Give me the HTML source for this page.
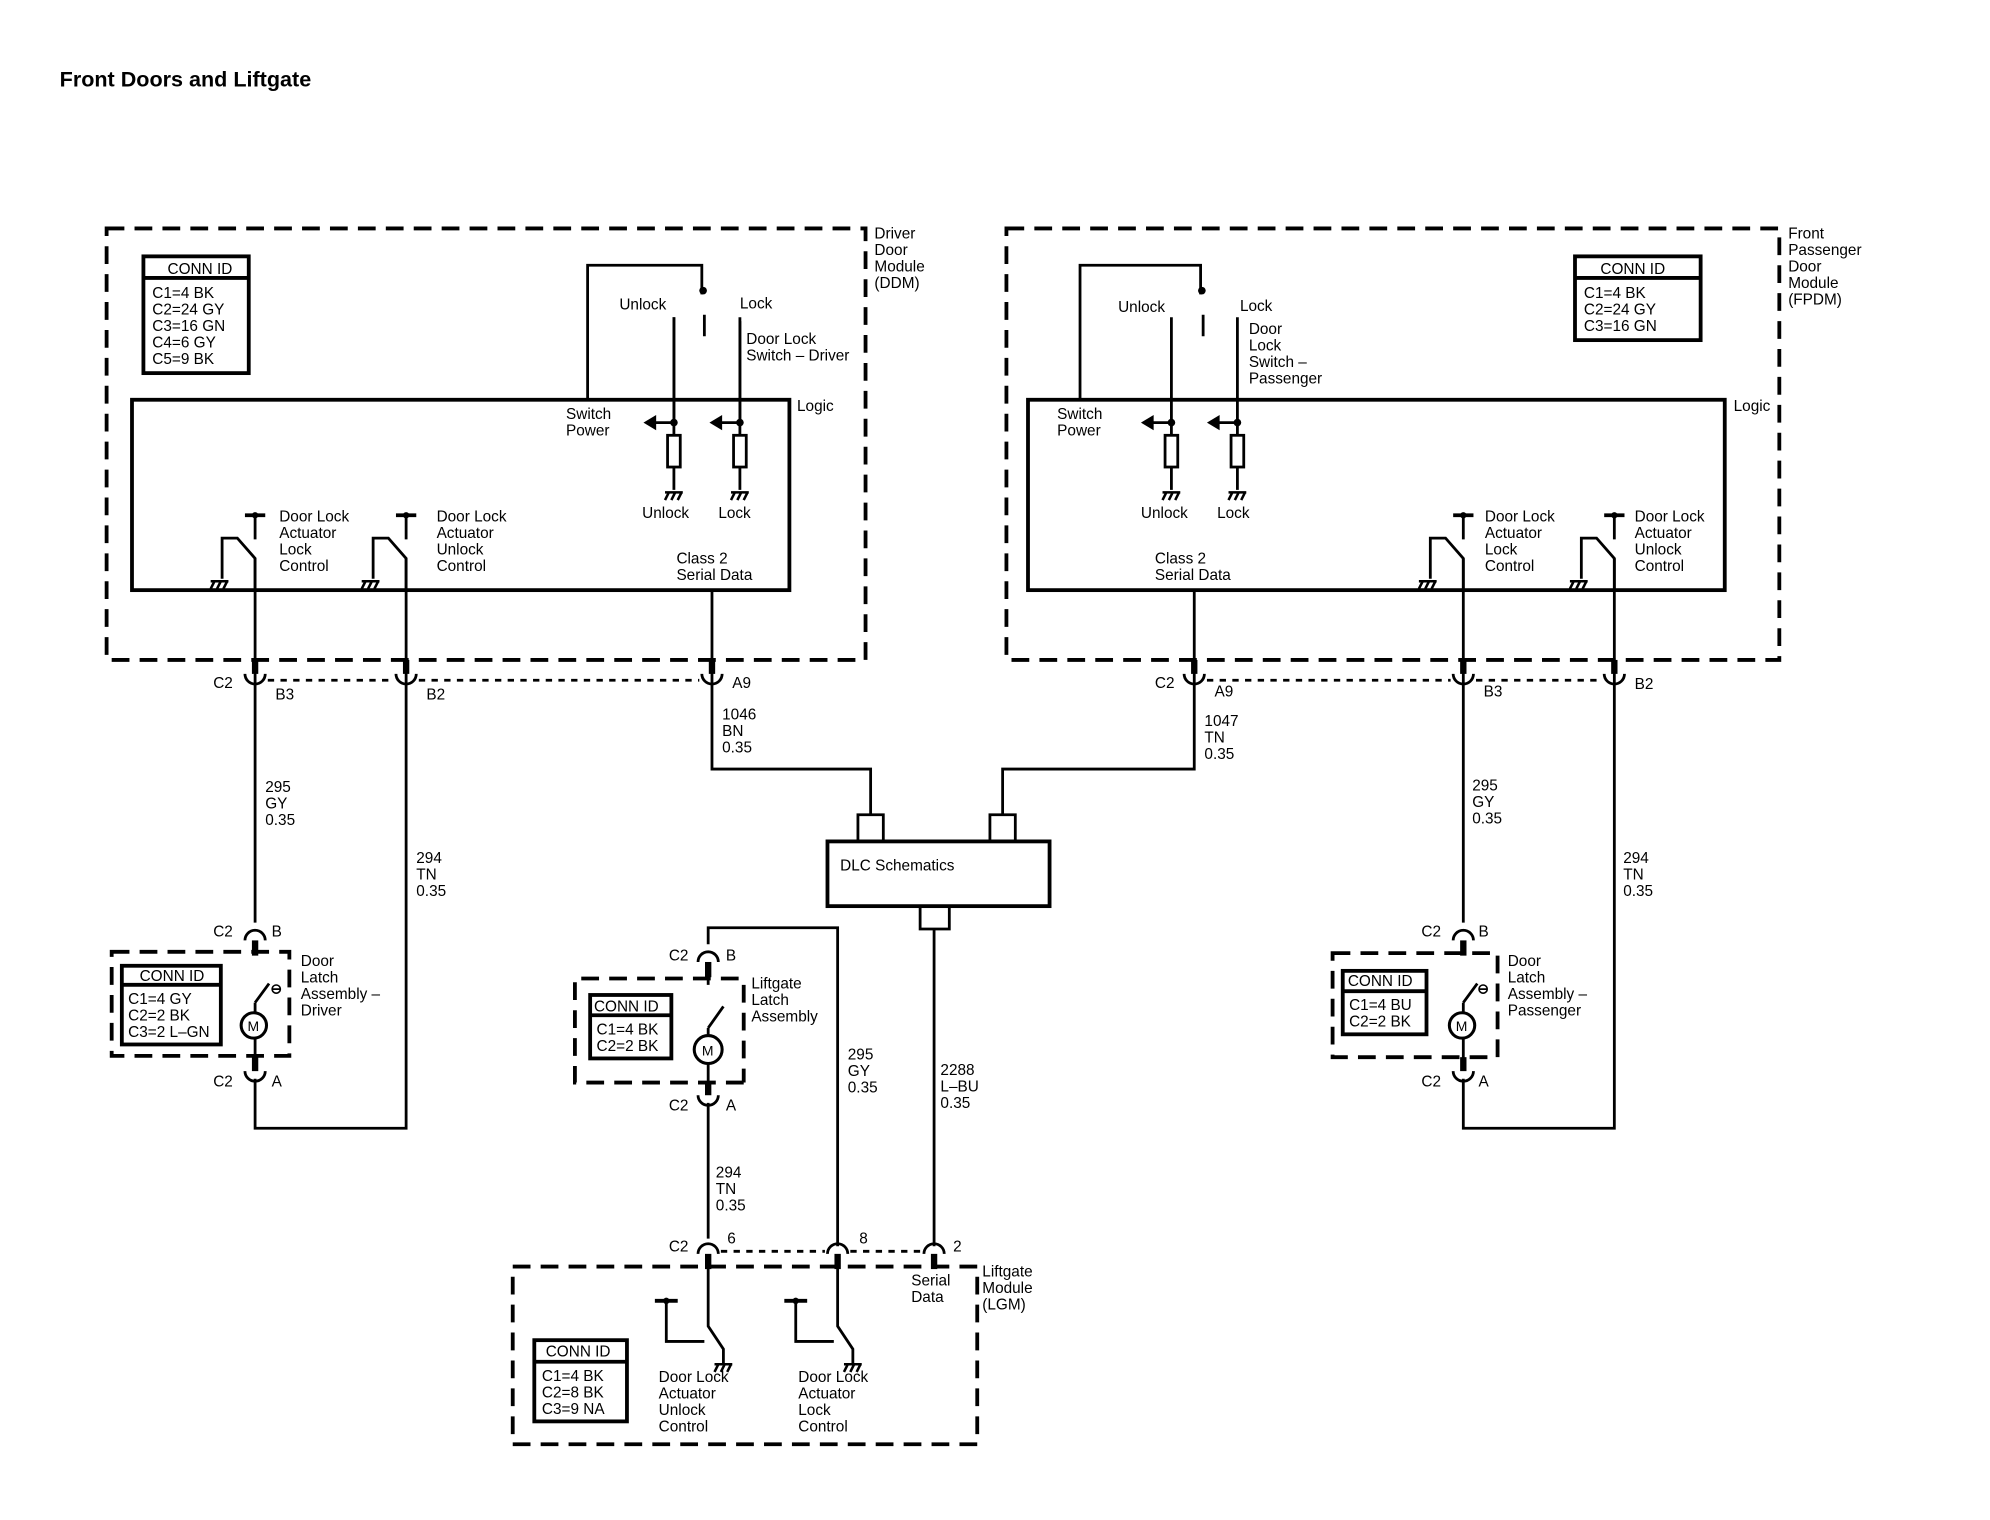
<!DOCTYPE html>
<html><head><meta charset="utf-8"><style>
html,body{margin:0;padding:0;background:#fff;}
svg{display:block;}
text{font-family:"Liberation Sans",sans-serif;font-size:12.1px;fill:#000;}
.t{font-weight:bold;font-size:17px;}
.w{stroke:#000;stroke-width:2.2;fill:none;}
.b{stroke:#000;stroke-width:3;fill:none;}
.d{stroke:#000;stroke-width:3;fill:none;stroke-dasharray:14 8;}
.dd{stroke:#000;stroke-width:2.2;fill:none;stroke-dasharray:5 5;}
</style></head><body>
<svg width="1990" height="1520" viewBox="0 0 1568 1197.7" preserveAspectRatio="none" xmlns="http://www.w3.org/2000/svg">
<defs>
<g id="gnd"><path d="M-7,0 H7 M-4,0 l-3,6 M1,0 l-3,6 M6,0 l-3,6" stroke="#000" stroke-width="2" fill="none"/></g>
<g id="cup"><rect x="-2.5" y="-17" width="5" height="11" fill="#000"/><path d="M-8,-6 A8,8 0 0 0 8,-6" class="w" stroke-width="2.6"/></g>
<g id="cap"><rect x="-2.5" y="6" width="5" height="12" fill="#000"/><path d="M-8,6 A8,8 0 0 1 8,6" class="w" stroke-width="2.6"/></g>
<g id="relay"><path d="M-8,406 H8" class="b"/><circle cx="0" cy="406" r="2.5"/><path d="M0,406 V425 M0,465 V440 L-14,424 H-26 V456" class="w"/><use href="#gnd" x="-28" y="458"/></g>
<g id="res"><path d="M0,250 V343 M0,368 V386 M0,333 H-16" class="w"/><circle cx="0" cy="333" r="3"/><polygon points="-24,333 -14,327 -14,339"/><rect x="-5" y="343" width="10" height="25" fill="#fff" stroke="#000" stroke-width="2.2"/><use href="#gnd" x="0" y="388"/></g>
<g id="lrelay"><path d="M-42,1025 H-24" class="b"/><circle cx="-33" cy="1025" r="2.5"/><path d="M-33,1025 V1057 H-3 M0,998 V1045 L12,1063 V1074" class="w"/><use href="#gnd" x="12" y="1075"/></g>
</defs>

<text x="47" y="68" class="t">Front Doors and Liftgate</text>

<!-- DDM -->
<rect x="84" y="180" width="598" height="340" class="d"/>
<text x="689" y="188">Driver</text><text x="689" y="201">Door</text><text x="689" y="214">Module</text><text x="689" y="227">(DDM)</text>
<rect x="113" y="202" width="83" height="92" class="b"/><path d="M113,219 H196" class="b"/>
<text x="132" y="216">CONN ID</text>
<text x="120" y="235">C1=4 BK</text><text x="120" y="248">C2=24 GY</text><text x="120" y="261">C3=16 GN</text><text x="120" y="274">C4=6 GY</text><text x="120" y="287">C5=9 BK</text>
<rect x="104" y="315" width="518" height="150" class="b"/>
<text x="628" y="324">Logic</text>
<path d="M463,315 V209 H553 V232 M555,248 V265 M583,253 V333 M531,250 V333" class="w"/>
<circle cx="554" cy="229" r="3"/>
<use href="#res" x="531"/><use href="#res" x="583"/>
<text x="488" y="244">Unlock</text><text x="583" y="243">Lock</text>
<text x="588" y="271">Door Lock</text><text x="588" y="284">Switch – Driver</text>
<text x="446" y="330">Switch</text><text x="446" y="343">Power</text>
<text x="506" y="408">Unlock</text><text x="566" y="408">Lock</text>
<use href="#relay" x="201"/><use href="#relay" x="320"/>
<text x="220" y="411">Door Lock</text><text x="220" y="424">Actuator</text><text x="220" y="437">Lock</text><text x="220" y="450">Control</text>
<text x="344" y="411">Door Lock</text><text x="344" y="424">Actuator</text><text x="344" y="437">Unlock</text><text x="344" y="450">Control</text>
<text x="533" y="444">Class 2</text><text x="533" y="457">Serial Data</text>

<!-- driver wires -->
<path d="M201,440 V727 M320,440 V889 H201 V850 M561,465 V606 H686 V642" class="w"/>
<use href="#cup" x="201" y="537"/><use href="#cup" x="320" y="537"/><use href="#cup" x="561" y="537"/>
<path d="M211,536 H310 M330,536 H551" class="dd"/>
<text x="168" y="542">C2</text><text x="217" y="551">B3</text><text x="336" y="551">B2</text><text x="577" y="542">A9</text>
<text x="209" y="624">295</text><text x="209" y="637">GY</text><text x="209" y="650">0.35</text>
<text x="328" y="680">294</text><text x="328" y="693">TN</text><text x="328" y="706">0.35</text>
<text x="569" y="567">1046</text><text x="569" y="580">BN</text><text x="569" y="593">0.35</text>

<!-- driver latch -->
<use href="#cap" x="201" y="735"/>
<text x="168" y="738">C2</text><text x="214" y="738">B</text>
<path d="M88,750 H228 V832 H88 Z" class="d"/>
<rect x="96" y="761" width="78" height="62" class="b"/><path d="M96,776 H174" class="b"/>
<text x="110" y="773">CONN ID</text>
<text x="101" y="791">C1=4 GY</text><text x="101" y="804">C2=2 BK</text><text x="101" y="817">C3=2 L–GN</text>
<path d="M201,790 V798 M201,790 L212,775 M201,818 V836" class="w"/>
<circle cx="200" cy="808" r="10" fill="#fff" stroke="#000" stroke-width="2.4"/><text x="195" y="812.5" style="font-size:11px">M</text>
<text x="213" y="783" style="font-weight:bold;font-size:11px">⊖</text>
<use href="#cup" x="201" y="850"/>
<text x="168" y="856">C2</text><text x="214" y="856">A</text>
<text x="237" y="761">Door</text><text x="237" y="774">Latch</text><text x="237" y="787">Assembly –</text><text x="237" y="800">Driver</text>

<!-- DLC -->
<rect x="652" y="663" width="175" height="51" class="b"/>
<text x="662" y="686">DLC Schematics</text>
<path d="M676,663 V642 H696 V663 M780,663 V642 H800 V663 M725,714 V732 H748 V714" class="w"/>
<path d="M790,642 V606 H941 V465 M736,732 V982" class="w"/>
<text x="949" y="572">1047</text><text x="949" y="585">TN</text><text x="949" y="598">0.35</text>

<!-- FPDM -->
<rect x="793" y="180" width="609" height="340" class="d"/>
<text x="1409" y="188">Front</text><text x="1409" y="201">Passenger</text><text x="1409" y="214">Door</text><text x="1409" y="227">Module</text><text x="1409" y="240">(FPDM)</text>
<rect x="1241" y="202" width="99" height="66" class="b"/><path d="M1241,219 H1340" class="b"/>
<text x="1261" y="216">CONN ID</text>
<text x="1248" y="235">C1=4 BK</text><text x="1248" y="248">C2=24 GY</text><text x="1248" y="261">C3=16 GN</text>
<rect x="810" y="315" width="549" height="150" class="b"/>
<text x="1366" y="324">Logic</text>
<path d="M851,315 V209 H946 V232 M948,248 V265" class="w"/>
<circle cx="947" cy="229" r="3"/>
<use href="#res" x="923"/><use href="#res" x="975"/>
<text x="881" y="246">Unlock</text><text x="977" y="245">Lock</text>
<text x="984" y="263">Door</text><text x="984" y="276">Lock</text><text x="984" y="289">Switch –</text><text x="984" y="302">Passenger</text>
<text x="833" y="330">Switch</text><text x="833" y="343">Power</text>
<text x="899" y="408">Unlock</text><text x="959" y="408">Lock</text>
<text x="910" y="444">Class 2</text><text x="910" y="457">Serial Data</text>
<use href="#relay" x="1153"/><use href="#relay" x="1272"/>
<text x="1170" y="411">Door Lock</text><text x="1170" y="424">Actuator</text><text x="1170" y="437">Lock</text><text x="1170" y="450">Control</text>
<text x="1288" y="411">Door Lock</text><text x="1288" y="424">Actuator</text><text x="1288" y="437">Unlock</text><text x="1288" y="450">Control</text>

<path d="M1153,440 V727 M1272,440 V889 H1153 V850" class="w"/>
<use href="#cup" x="941" y="537"/><use href="#cup" x="1153" y="537"/><use href="#cup" x="1272" y="537"/>
<path d="M951,536 H1143 M1163,536 H1262" class="dd"/>
<text x="910" y="542">C2</text><text x="957" y="549">A9</text><text x="1169" y="549">B3</text><text x="1288" y="543">B2</text>
<text x="1160" y="623">295</text><text x="1160" y="636">GY</text><text x="1160" y="649">0.35</text>
<text x="1279" y="680">294</text><text x="1279" y="693">TN</text><text x="1279" y="706">0.35</text>

<use href="#cap" x="1153" y="735"/>
<text x="1120" y="738">C2</text><text x="1165" y="738">B</text>
<path d="M1050,751 H1180 V833 H1050 Z" class="d"/>
<rect x="1058" y="765" width="66" height="50" class="b"/><path d="M1058,781 H1124" class="b"/>
<text x="1062" y="777">CONN ID</text>
<text x="1063" y="796">C1=4 BU</text><text x="1063" y="809">C2=2 BK</text>
<path d="M1153,790 V798 M1153,790 L1164,775 M1153,818 V836" class="w"/>
<circle cx="1152" cy="808" r="10" fill="#fff" stroke="#000" stroke-width="2.4"/><text x="1147" y="812.5" style="font-size:11px">M</text>
<text x="1164" y="783" style="font-weight:bold;font-size:11px">⊖</text>
<use href="#cup" x="1153" y="850"/>
<text x="1120" y="856">C2</text><text x="1165" y="856">A</text>
<text x="1188" y="761">Door</text><text x="1188" y="774">Latch</text><text x="1188" y="787">Assembly –</text><text x="1188" y="800">Passenger</text>

<!-- Liftgate latch -->
<path d="M660,982 V731 H558 V744" class="w"/>
<use href="#cap" x="558" y="752"/>
<text x="527" y="757">C2</text><text x="572" y="757">B</text>
<path d="M586,853 H453 V771 H586 M586,776 V853" class="d"/>
<rect x="465" y="784" width="64" height="50" class="b"/><path d="M465,800 H529" class="b"/>
<text x="468" y="797">CONN ID</text>
<text x="470" y="815">C1=4 BK</text><text x="470" y="828">C2=2 BK</text>
<path d="M558,770 V776 M558,810 V816 M558,810 L570,793 M558,838 V862" class="w"/>
<circle cx="558" cy="827" r="11" fill="#fff" stroke="#000" stroke-width="2.4"/><text x="553" y="831.5" style="font-size:11px">M</text>
<use href="#cup" x="558" y="869"/>
<text x="527" y="875">C2</text><text x="572" y="875">A</text>
<text x="592" y="779">Liftgate</text><text x="592" y="792">Latch</text><text x="592" y="805">Assembly</text>
<text x="668" y="835">295</text><text x="668" y="848">GY</text><text x="668" y="861">0.35</text>
<text x="741" y="847">2288</text><text x="741" y="860">L–BU</text><text x="741" y="873">0.35</text>
<path d="M558,869 V976" class="w"/>
<text x="564" y="928">294</text><text x="564" y="941">TN</text><text x="564" y="954">0.35</text>

<!-- LGM -->
<use href="#cap" x="558" y="982"/><use href="#cap" x="660" y="982"/><use href="#cap" x="736" y="982"/>
<path d="M568,986 H650 M670,986 H726" class="dd"/>
<text x="527" y="986">C2</text><text x="573" y="980">6</text><text x="677" y="980">8</text><text x="751" y="986">2</text>
<path d="M404,998 H770 V1138 H404 Z" class="d"/>
<text x="774" y="1006">Liftgate</text><text x="774" y="1019">Module</text><text x="774" y="1032">(LGM)</text>
<text x="718" y="1013">Serial</text><text x="718" y="1026">Data</text>
<use href="#lrelay" x="558"/><use href="#lrelay" x="660"/>
<rect x="421" y="1056" width="73" height="64" class="b"/><path d="M421,1073 H494" class="b"/>
<text x="430" y="1069">CONN ID</text>
<text x="427" y="1088">C1=4 BK</text><text x="427" y="1101">C2=8 BK</text><text x="427" y="1114">C3=9 NA</text>
<text x="519" y="1089">Door Lock</text><text x="519" y="1102">Actuator</text><text x="519" y="1115">Unlock</text><text x="519" y="1128">Control</text>
<text x="629" y="1089">Door Lock</text><text x="629" y="1102">Actuator</text><text x="629" y="1115">Lock</text><text x="629" y="1128">Control</text>
</svg>
</body></html>
